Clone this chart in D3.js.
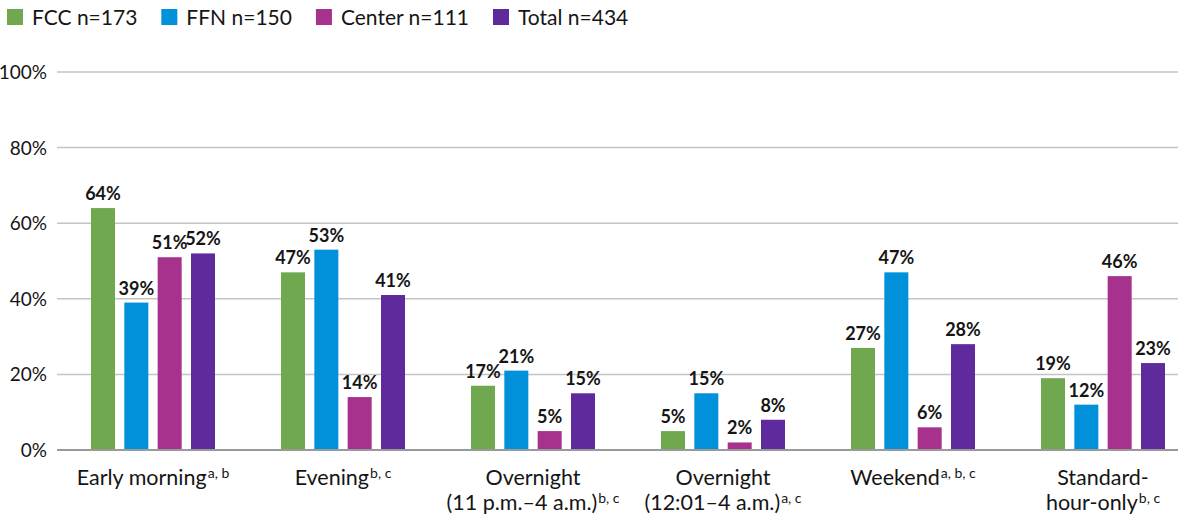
<html>
<head>
<meta charset="utf-8">
<style>
  body{margin:0;background:#fff;}
  text{font-family:Lato, "Open Sans", sans-serif;fill:#151515;}
  .grid line{stroke:#c4c4c4;stroke-width:1.5;}
  .base{stroke:#9a9a9a;stroke-width:2;}
  .tick{font-size:19px;}
  .cat{font-size:21.5px;}
  .val{font-size:18px;font-weight:bold;}
  .leg{font-size:21px;}
</style>
</head>
<body>
<script src="https://cdnjs.cloudflare.com/ajax/libs/d3/7.8.5/d3.min.js"></script>
<script>
var width = 1178, height = 519;

// data
var series = ["FCC n=173", "FFN n=150", "Center n=111", "Total n=434"];
var colors = ["#70a84f", "#0091da", "#a6328e", "#5e2a9c"];
var categories = [
  {lines:["Early morning"], sup:"a, b"},
  {lines:["Evening"], sup:"b, c"},
  {lines:["Overnight", "(11 p.m.\u20134 a.m.)"], sup:"b, c"},
  {lines:["Overnight", "(12:01\u20134 a.m.)"], sup:"a, c"},
  {lines:["Weekend"], sup:"a, b, c"},
  {lines:["Standard-", "hour-only"], sup:"b, c"}
];
var fcc    = [64, 47, 17, 5, 27, 19];
var ffn    = [39, 53, 21, 15, 47, 12];
var center = [51, 14, 5, 2, 6, 46];
var total  = [52, 41, 15, 8, 28, 23];
var yTicks = [0, 20, 40, 60, 80, 100];

var values = [fcc, ffn, center, total];

var svg = d3.select("body").append("svg")
    .attr("width", width)
    .attr("height", height);

var y = d3.scaleLinear().domain([0, 100]).range([450, 72]);
var x0 = d3.scaleBand().domain(d3.range(categories.length)).range([58, 1198]);
var x1 = d3.scaleBand().domain(d3.range(series.length)).range([33, 157]).paddingInner(0.28);

// gridlines
var grid = svg.append("g").attr("class", "grid");
grid.selectAll("line").data(yTicks.filter(function(d){ return d > 0; }))
  .enter().append("line")
  .attr("x1", 57).attr("x2", width)
  .attr("y1", function(d){ return y(d); })
  .attr("y2", function(d){ return y(d); });

// y axis labels
svg.selectAll(".tick").data(yTicks).enter().append("text")
  .attr("class", "tick")
  .attr("x", 47)
  .attr("y", function(d){ return y(d) + 7; })
  .attr("text-anchor", "end")
  .text(function(d){ return d + "%"; });

// bars
var groups = svg.selectAll(".grp").data(categories).enter().append("g")
  .attr("class", "grp")
  .attr("transform", function(d, i){ return "translate(" + x0(i) + ",0)"; });

groups.each(function(c, ci){
  var g = d3.select(this);
  var rows = series.map(function(s, si){ return {si:si, v:values[si][ci]}; });
  g.selectAll("rect").data(rows).enter().append("rect")
    .attr("x", function(d){ return x1(d.si); })
    .attr("width", x1.bandwidth())
    .attr("y", function(d){ return y(d.v); })
    .attr("height", function(d){ return y(0) - y(d.v); })
    .attr("fill", function(d){ return colors[d.si]; });
  g.selectAll(".val").data(rows).enter().append("text")
    .attr("class", "val")
    .attr("x", function(d){ return x1(d.si) + x1.bandwidth() / 2; })
    .attr("y", function(d){ return y(d.v) - 8; })
    .attr("text-anchor", "middle")
    .text(function(d){ return d.v + "%"; });

  // category label, one text per line
  c.lines.forEach(function(line, li){
    var t = g.append("text").attr("class", "cat")
      .attr("text-anchor", "middle")
      .attr("x", x0.bandwidth() / 2)
      .attr("y", 485 + li * 25);
    t.append("tspan").text(line);
    if (li == c.lines.length - 1) {
      t.append("tspan")
        .attr("dy", -7)
        .attr("dx", 1)
        .style("font-size", "14px")
        .text(c.sup);
    }
  });
});

// baseline
svg.append("line").attr("class", "base")
  .attr("x1", 57).attr("x2", width)
  .attr("y1", y(0)).attr("y2", y(0));

// legend
var lx = 7;
series.forEach(function(s, i){
  svg.append("rect")
    .attr("x", lx).attr("y", 9)
    .attr("width", 16).attr("height", 16)
    .attr("fill", colors[i]);
  var t = svg.append("text").attr("class", "leg")
    .attr("x", lx + 25).attr("y", 25)
    .text(s);
  lx = lx + 25 + t.node().getComputedTextLength() + 24;
});
</script>
</body>
</html>
